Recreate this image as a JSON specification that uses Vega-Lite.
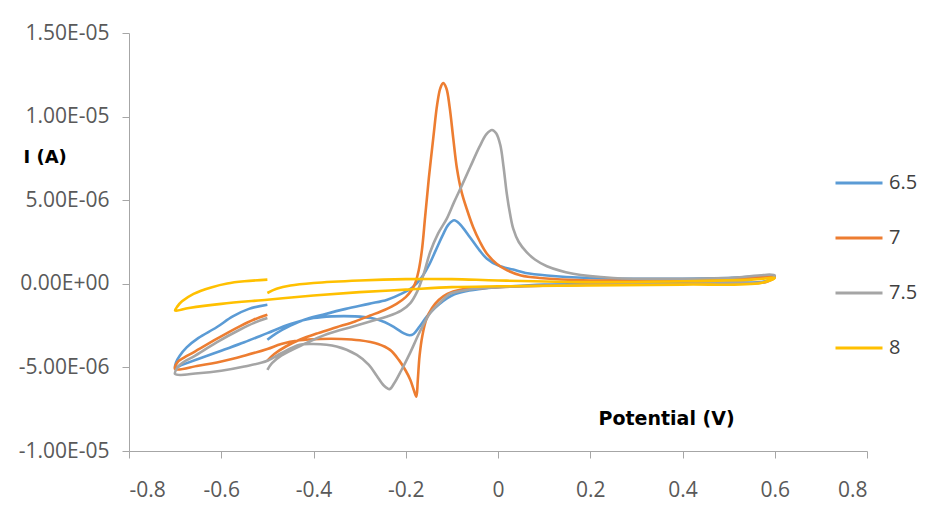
{
  "$schema": "https://vega.github.io/schema/vega-lite/v6.json",
  "width": 738,
  "height": 418,
  "autosize": {"type": "none"},
  "padding": {"left": 129, "top": 33, "right": 60, "bottom": 55},
  "background": "white",
  "config": {"view": {"stroke": null}, "font": "Open Sans"},
  "data": {"values": [
    {"s":"6.5","k":1,"v":-0.5,"i":-3.35e-6},{"s":"6.5","k":2,"v":-0.48,"i":-2.95e-6},{"s":"6.5","k":3,"v":-0.45,"i":-2.5e-6},{"s":"6.5","k":4,"v":-0.42,"i":-2.15e-6},{"s":"6.5","k":5,"v":-0.38,"i":-1.85e-6},{"s":"6.5","k":6,"v":-0.33,"i":-1.5e-6},{"s":"6.5","k":7,"v":-0.28,"i":-1.2e-6},{"s":"6.5","k":8,"v":-0.24,"i":-0.95e-6},{"s":"6.5","k":9,"v":-0.21,"i":-0.6e-6},{"s":"6.5","k":10,"v":-0.185,"i":-0.2e-6},
    {"s":"6.5","k":11,"v":-0.165,"i":0.4e-6},{"s":"6.5","k":12,"v":-0.15,"i":1.1e-6},{"s":"6.5","k":13,"v":-0.135,"i":2.0e-6},{"s":"6.5","k":14,"v":-0.12,"i":2.9e-6},{"s":"6.5","k":15,"v":-0.107,"i":3.55e-6},{"s":"6.5","k":16,"v":-0.095,"i":3.8e-6},{"s":"6.5","k":17,"v":-0.082,"i":3.55e-6},{"s":"6.5","k":18,"v":-0.06,"i":2.75e-6},{"s":"6.5","k":19,"v":-0.04,"i":2.0e-6},{"s":"6.5","k":20,"v":-0.024,"i":1.5e-6},
    {"s":"6.5","k":21,"v":0,"i":1.1e-6},{"s":"6.5","k":22,"v":0.033,"i":0.85e-6},{"s":"6.5","k":23,"v":0.06,"i":0.65e-6},{"s":"6.5","k":24,"v":0.106,"i":0.5e-6},{"s":"6.5","k":25,"v":0.2,"i":0.35e-6},{"s":"6.5","k":26,"v":0.3,"i":0.3e-6},{"s":"6.5","k":27,"v":0.4,"i":0.3e-6},{"s":"6.5","k":28,"v":0.5,"i":0.35e-6},{"s":"6.5","k":29,"v":0.6,"i":0.45e-6},{"s":"6.5","k":30,"v":0.58,"i":0.15e-6},
    {"s":"6.5","k":31,"v":0.5,"i":0.08e-6},{"s":"6.5","k":32,"v":0.4,"i":0.05e-6},{"s":"6.5","k":33,"v":0.2,"i":0},{"s":"6.5","k":34,"v":0.1,"i":-0.05e-6},{"s":"6.5","k":35,"v":0.03,"i":-0.15e-6},{"s":"6.5","k":36,"v":-0.03,"i":-0.28e-6},{"s":"6.5","k":37,"v":-0.07,"i":-0.45e-6},{"s":"6.5","k":38,"v":-0.1,"i":-0.7e-6},{"s":"6.5","k":39,"v":-0.12,"i":-1.05e-6},{"s":"6.5","k":40,"v":-0.137,"i":-1.45e-6},
    {"s":"6.5","k":41,"v":-0.154,"i":-1.95e-6},{"s":"6.5","k":42,"v":-0.17,"i":-2.55e-6},{"s":"6.5","k":43,"v":-0.183,"i":-3.0e-6},{"s":"6.5","k":44,"v":-0.192,"i":-3.08e-6},{"s":"6.5","k":45,"v":-0.205,"i":-2.95e-6},{"s":"6.5","k":46,"v":-0.222,"i":-2.65e-6},{"s":"6.5","k":47,"v":-0.245,"i":-2.3e-6},{"s":"6.5","k":48,"v":-0.275,"i":-2.05e-6},{"s":"6.5","k":49,"v":-0.31,"i":-1.95e-6},{"s":"6.5","k":50,"v":-0.36,"i":-1.95e-6},
    {"s":"6.5","k":51,"v":-0.4,"i":-2.05e-6},{"s":"6.5","k":52,"v":-0.45,"i":-2.4e-6},{"s":"6.5","k":53,"v":-0.5,"i":-2.95e-6},{"s":"6.5","k":54,"v":-0.55,"i":-3.5e-6},{"s":"6.5","k":55,"v":-0.6,"i":-4.0e-6},{"s":"6.5","k":56,"v":-0.65,"i":-4.5e-6},{"s":"6.5","k":57,"v":-0.685,"i":-4.85e-6},{"s":"6.5","k":58,"v":-0.7,"i":-5.0e-6},{"s":"6.5","k":59,"v":-0.698,"i":-4.7e-6},{"s":"6.5","k":60,"v":-0.69,"i":-4.3e-6},
    {"s":"6.5","k":61,"v":-0.675,"i":-3.8e-6},{"s":"6.5","k":62,"v":-0.65,"i":-3.25e-6},{"s":"6.5","k":63,"v":-0.61,"i":-2.6e-6},{"s":"6.5","k":64,"v":-0.575,"i":-1.95e-6},{"s":"6.5","k":65,"v":-0.54,"i":-1.5e-6},{"s":"6.5","k":66,"v":-0.5,"i":-1.25e-6},

    {"s":"7","k":1,"v":-0.5,"i":-4.6e-6},{"s":"7","k":2,"v":-0.485,"i":-4.2e-6},{"s":"7","k":3,"v":-0.46,"i":-3.75e-6},{"s":"7","k":4,"v":-0.43,"i":-3.35e-6},{"s":"7","k":5,"v":-0.39,"i":-2.95e-6},{"s":"7","k":6,"v":-0.35,"i":-2.6e-6},{"s":"7","k":7,"v":-0.31,"i":-2.25e-6},{"s":"7","k":8,"v":-0.277,"i":-1.9e-6},{"s":"7","k":9,"v":-0.245,"i":-1.55e-6},{"s":"7","k":10,"v":-0.22,"i":-1.2e-6},
    {"s":"7","k":11,"v":-0.2,"i":-0.8e-6},{"s":"7","k":12,"v":-0.188,"i":-0.4e-6},{"s":"7","k":13,"v":-0.18,"i":0},{"s":"7","k":14,"v":-0.172,"i":0.8e-6},{"s":"7","k":15,"v":-0.165,"i":2.0e-6},{"s":"7","k":16,"v":-0.158,"i":4.0e-6},{"s":"7","k":17,"v":-0.15,"i":6.3e-6},{"s":"7","k":18,"v":-0.14,"i":8.8e-6},{"s":"7","k":19,"v":-0.132,"i":10.7e-6},{"s":"7","k":20,"v":-0.125,"i":11.7e-6},
    {"s":"7","k":21,"v":-0.119,"i":12.0e-6},{"s":"7","k":22,"v":-0.112,"i":11.7e-6},{"s":"7","k":23,"v":-0.105,"i":10.6e-6},{"s":"7","k":24,"v":-0.097,"i":8.7e-6},{"s":"7","k":25,"v":-0.089,"i":6.9e-6},{"s":"7","k":26,"v":-0.079,"i":5.5e-6},{"s":"7","k":27,"v":-0.068,"i":4.5e-6},{"s":"7","k":28,"v":-0.054,"i":3.4e-6},{"s":"7","k":29,"v":-0.039,"i":2.5e-6},{"s":"7","k":30,"v":-0.024,"i":1.8e-6},
    {"s":"7","k":31,"v":-0.003,"i":1.2e-6},{"s":"7","k":32,"v":0.02,"i":0.8e-6},{"s":"7","k":33,"v":0.05,"i":0.5e-6},{"s":"7","k":34,"v":0.09,"i":0.35e-6},{"s":"7","k":35,"v":0.2,"i":0.2e-6},{"s":"7","k":36,"v":0.3,"i":0.2e-6},{"s":"7","k":37,"v":0.4,"i":0.22e-6},{"s":"7","k":38,"v":0.5,"i":0.28e-6},{"s":"7","k":39,"v":0.6,"i":0.4e-6},{"s":"7","k":40,"v":0.58,"i":0.1e-6},
    {"s":"7","k":41,"v":0.5,"i":0.05e-6},{"s":"7","k":42,"v":0.4,"i":0},{"s":"7","k":43,"v":0.2,"i":-0.05e-6},{"s":"7","k":44,"v":0.05,"i":-0.15e-6},{"s":"7","k":45,"v":-0.03,"i":-0.25e-6},{"s":"7","k":46,"v":-0.082,"i":-0.35e-6},{"s":"7","k":47,"v":-0.11,"i":-0.6e-6},{"s":"7","k":48,"v":-0.128,"i":-0.95e-6},{"s":"7","k":49,"v":-0.143,"i":-1.45e-6},{"s":"7","k":50,"v":-0.155,"i":-2.1e-6},
    {"s":"7","k":51,"v":-0.164,"i":-3.1e-6},{"s":"7","k":52,"v":-0.17,"i":-4.3e-6},{"s":"7","k":53,"v":-0.174,"i":-5.8e-6},{"s":"7","k":54,"v":-0.177,"i":-6.75e-6},{"s":"7","k":55,"v":-0.182,"i":-6.4e-6},{"s":"7","k":56,"v":-0.19,"i":-5.75e-6},{"s":"7","k":57,"v":-0.2,"i":-5.2e-6},{"s":"7","k":58,"v":-0.215,"i":-4.55e-6},{"s":"7","k":59,"v":-0.234,"i":-3.95e-6},{"s":"7","k":60,"v":-0.26,"i":-3.6e-6},
    {"s":"7","k":61,"v":-0.3,"i":-3.38e-6},{"s":"7","k":62,"v":-0.34,"i":-3.3e-6},{"s":"7","k":63,"v":-0.385,"i":-3.3e-6},{"s":"7","k":64,"v":-0.43,"i":-3.38e-6},{"s":"7","k":65,"v":-0.47,"i":-3.6e-6},{"s":"7","k":66,"v":-0.5,"i":-3.9e-6},{"s":"7","k":67,"v":-0.55,"i":-4.3e-6},{"s":"7","k":68,"v":-0.6,"i":-4.65e-6},{"s":"7","k":69,"v":-0.65,"i":-4.9e-6},{"s":"7","k":70,"v":-0.7,"i":-5.1e-6},
    {"s":"7","k":71,"v":-0.695,"i":-4.7e-6},{"s":"7","k":72,"v":-0.68,"i":-4.4e-6},{"s":"7","k":73,"v":-0.66,"i":-4.1e-6},{"s":"7","k":74,"v":-0.61,"i":-3.3e-6},{"s":"7","k":75,"v":-0.56,"i":-2.55e-6},{"s":"7","k":76,"v":-0.53,"i":-2.15e-6},{"s":"7","k":77,"v":-0.5,"i":-1.85e-6},

    {"s":"7.5","k":1,"v":-0.5,"i":-5.15e-6},{"s":"7.5","k":2,"v":-0.49,"i":-4.75e-6},{"s":"7.5","k":3,"v":-0.47,"i":-4.3e-6},{"s":"7.5","k":4,"v":-0.42,"i":-3.6e-6},{"s":"7.5","k":5,"v":-0.37,"i":-3.0e-6},{"s":"7.5","k":6,"v":-0.314,"i":-2.55e-6},{"s":"7.5","k":7,"v":-0.27,"i":-2.2e-6},{"s":"7.5","k":8,"v":-0.24,"i":-1.95e-6},{"s":"7.5","k":9,"v":-0.21,"i":-1.6e-6},{"s":"7.5","k":10,"v":-0.19,"i":-1.15e-6},
    {"s":"7.5","k":11,"v":-0.175,"i":-0.45e-6},{"s":"7.5","k":12,"v":-0.162,"i":0.5e-6},{"s":"7.5","k":13,"v":-0.147,"i":1.9e-6},{"s":"7.5","k":14,"v":-0.13,"i":3.0e-6},{"s":"7.5","k":15,"v":-0.111,"i":3.9e-6},{"s":"7.5","k":16,"v":-0.095,"i":4.9e-6},{"s":"7.5","k":17,"v":-0.078,"i":5.9e-6},{"s":"7.5","k":18,"v":-0.06,"i":7.0e-6},{"s":"7.5","k":19,"v":-0.04,"i":8.2e-6},{"s":"7.5","k":20,"v":-0.025,"i":8.95e-6},
    {"s":"7.5","k":21,"v":-0.013,"i":9.2e-6},{"s":"7.5","k":22,"v":-0.004,"i":9.0e-6},{"s":"7.5","k":23,"v":0.005,"i":8.3e-6},{"s":"7.5","k":24,"v":0.012,"i":7.0e-6},{"s":"7.5","k":25,"v":0.019,"i":5.4e-6},{"s":"7.5","k":26,"v":0.026,"i":4.2e-6},{"s":"7.5","k":27,"v":0.033,"i":3.3e-6},{"s":"7.5","k":28,"v":0.045,"i":2.5e-6},{"s":"7.5","k":29,"v":0.062,"i":1.9e-6},{"s":"7.5","k":30,"v":0.08,"i":1.45e-6},
    {"s":"7.5","k":31,"v":0.106,"i":1.05e-6},{"s":"7.5","k":32,"v":0.163,"i":0.6e-6},{"s":"7.5","k":33,"v":0.25,"i":0.35e-6},{"s":"7.5","k":34,"v":0.4,"i":0.3e-6},{"s":"7.5","k":35,"v":0.5,"i":0.35e-6},{"s":"7.5","k":36,"v":0.6,"i":0.5e-6},{"s":"7.5","k":37,"v":0.58,"i":0.12e-6},{"s":"7.5","k":38,"v":0.5,"i":0.05e-6},{"s":"7.5","k":39,"v":0.4,"i":0},{"s":"7.5","k":40,"v":0.2,"i":-0.05e-6},
    {"s":"7.5","k":41,"v":0.05,"i":-0.15e-6},{"s":"7.5","k":42,"v":-0.03,"i":-0.25e-6},{"s":"7.5","k":43,"v":-0.07,"i":-0.38e-6},{"s":"7.5","k":44,"v":-0.104,"i":-0.6e-6},{"s":"7.5","k":45,"v":-0.125,"i":-1.1e-6},{"s":"7.5","k":46,"v":-0.147,"i":-1.75e-6},{"s":"7.5","k":47,"v":-0.17,"i":-2.9e-6},{"s":"7.5","k":48,"v":-0.19,"i":-4.1e-6},{"s":"7.5","k":49,"v":-0.21,"i":-5.2e-6},{"s":"7.5","k":50,"v":-0.225,"i":-5.95e-6},
    {"s":"7.5","k":51,"v":-0.235,"i":-6.3e-6},{"s":"7.5","k":52,"v":-0.247,"i":-6.1e-6},{"s":"7.5","k":53,"v":-0.263,"i":-5.5e-6},{"s":"7.5","k":54,"v":-0.28,"i":-4.85e-6},{"s":"7.5","k":55,"v":-0.306,"i":-4.25e-6},{"s":"7.5","k":56,"v":-0.35,"i":-3.75e-6},{"s":"7.5","k":57,"v":-0.4,"i":-3.6e-6},{"s":"7.5","k":58,"v":-0.43,"i":-3.65e-6},{"s":"7.5","k":59,"v":-0.47,"i":-4.15e-6},{"s":"7.5","k":60,"v":-0.5,"i":-4.6e-6},
    {"s":"7.5","k":61,"v":-0.55,"i":-4.95e-6},{"s":"7.5","k":62,"v":-0.6,"i":-5.2e-6},{"s":"7.5","k":63,"v":-0.65,"i":-5.35e-6},{"s":"7.5","k":64,"v":-0.7,"i":-5.4e-6},{"s":"7.5","k":65,"v":-0.695,"i":-5.0e-6},{"s":"7.5","k":66,"v":-0.68,"i":-4.65e-6},{"s":"7.5","k":67,"v":-0.66,"i":-4.35e-6},{"s":"7.5","k":68,"v":-0.61,"i":-3.5e-6},{"s":"7.5","k":69,"v":-0.56,"i":-2.75e-6},{"s":"7.5","k":70,"v":-0.53,"i":-2.35e-6},
    {"s":"7.5","k":71,"v":-0.5,"i":-2.05e-6},

    {"s":"8","k":1,"v":-0.5,"i":-0.55e-6},{"s":"8","k":2,"v":-0.48,"i":-0.3e-6},{"s":"8","k":3,"v":-0.45,"i":-0.1e-6},{"s":"8","k":4,"v":-0.4,"i":0.05e-6},{"s":"8","k":5,"v":-0.3,"i":0.2e-6},{"s":"8","k":6,"v":-0.2,"i":0.28e-6},{"s":"8","k":7,"v":-0.1,"i":0.28e-6},{"s":"8","k":8,"v":0,"i":0.2e-6},{"s":"8","k":9,"v":0.2,"i":0.1e-6},{"s":"8","k":10,"v":0.4,"i":0.15e-6},
    {"s":"8","k":11,"v":0.55,"i":0.25e-6},{"s":"8","k":12,"v":0.6,"i":0.35e-6},{"s":"8","k":13,"v":0.57,"i":0.05e-6},{"s":"8","k":14,"v":0.4,"i":-0.05e-6},{"s":"8","k":15,"v":0.2,"i":-0.1e-6},{"s":"8","k":16,"v":0,"i":-0.15e-6},{"s":"8","k":17,"v":-0.1,"i":-0.2e-6},{"s":"8","k":18,"v":-0.2,"i":-0.35e-6},{"s":"8","k":19,"v":-0.3,"i":-0.5e-6},{"s":"8","k":20,"v":-0.4,"i":-0.7e-6},
    {"s":"8","k":21,"v":-0.5,"i":-0.95e-6},{"s":"8","k":22,"v":-0.6,"i":-1.2e-6},{"s":"8","k":23,"v":-0.67,"i":-1.45e-6},{"s":"8","k":24,"v":-0.7,"i":-1.6e-6},{"s":"8","k":25,"v":-0.695,"i":-1.35e-6},{"s":"8","k":26,"v":-0.685,"i":-1.05e-6},{"s":"8","k":27,"v":-0.66,"i":-0.6e-6},{"s":"8","k":28,"v":-0.62,"i":-0.2e-6},{"s":"8","k":29,"v":-0.587,"i":0.02e-6},{"s":"8","k":30,"v":-0.55,"i":0.15e-6},
    {"s":"8","k":31,"v":-0.5,"i":0.25e-6}
  ]},
  "mark": {"type": "line", "interpolate": "catmull-rom", "strokeWidth": 2.6},
  "encoding": {
    "x": {
      "field": "v", "type": "quantitative",
      "scale": {"domain": [-0.8, 0.8], "nice": false, "zero": false},
      "axis": {
        "values": [-0.8, -0.6, -0.4, -0.2, 0, 0.2, 0.4, 0.6, 0.8],
        "labelExpr": "(datum.value < -0.0001 ? '-' : '') + format(abs(datum.value), '.1~f')",
        "grid": false, "domainColor": "#A6A6A6", "tickColor": "#A6A6A6", "tickSize": 7,
        "labelFont": "Open Sans", "labelFontSize": 21, "labelColor": "#595959", "labelPadding": 21,
        "title": "Potential (V)", "titleFont": "DejaVu Sans", "titleFontWeight": "bold", "titleFontSize": 19, "titleColor": "#000000",
        "titleAngle": 0, "titleAlign": "left", "titleBaseline": "middle", "titleX": 469, "titleY": -33
      }
    },
    "y": {
      "field": "i", "type": "quantitative",
      "scale": {"domain": [-1e-5, 1.5e-5], "nice": false, "zero": false},
      "axis": {
        "values": [-1e-5, -5e-6, 0, 5e-6, 1e-5, 1.5e-5],
        "labelExpr": "(datum.value < 0 ? '-' : '') + replace(replace(format(abs(datum.value), '.2e'), 'e-', 'E-0'), 'e+', 'E+0')",
        "grid": false, "domainColor": "#A6A6A6", "tickColor": "#A6A6A6", "tickSize": 7,
        "labelFont": "Open Sans", "labelFontSize": 21, "labelColor": "#595959", "labelPadding": 13,
        "title": "I (A)", "titleFont": "DejaVu Sans", "titleFontWeight": "bold", "titleFontSize": 18, "titleColor": "#000000",
        "titleAngle": 0, "titleAlign": "left", "titleBaseline": "middle", "titleX": -106, "titleY": 124
      }
    },
    "color": {
      "field": "s", "type": "nominal",
      "scale": {"domain": ["6.5", "7", "7.5", "8"], "range": ["#5B9BD5", "#ED7D31", "#A5A5A5", "#FFC000"]},
      "legend": {
        "title": null, "orient": "none", "legendX": 705, "legendY": 125,
        "symbolType": "stroke", "symbolSize": 2209, "symbolStrokeWidth": 3,
        "labelFont": "Open Sans", "labelFontSize": 20, "labelColor": "#404040", "labelOffset": 5, "rowPadding": 20
      }
    },
    "order": {"field": "k", "type": "quantitative"}
  }
}
